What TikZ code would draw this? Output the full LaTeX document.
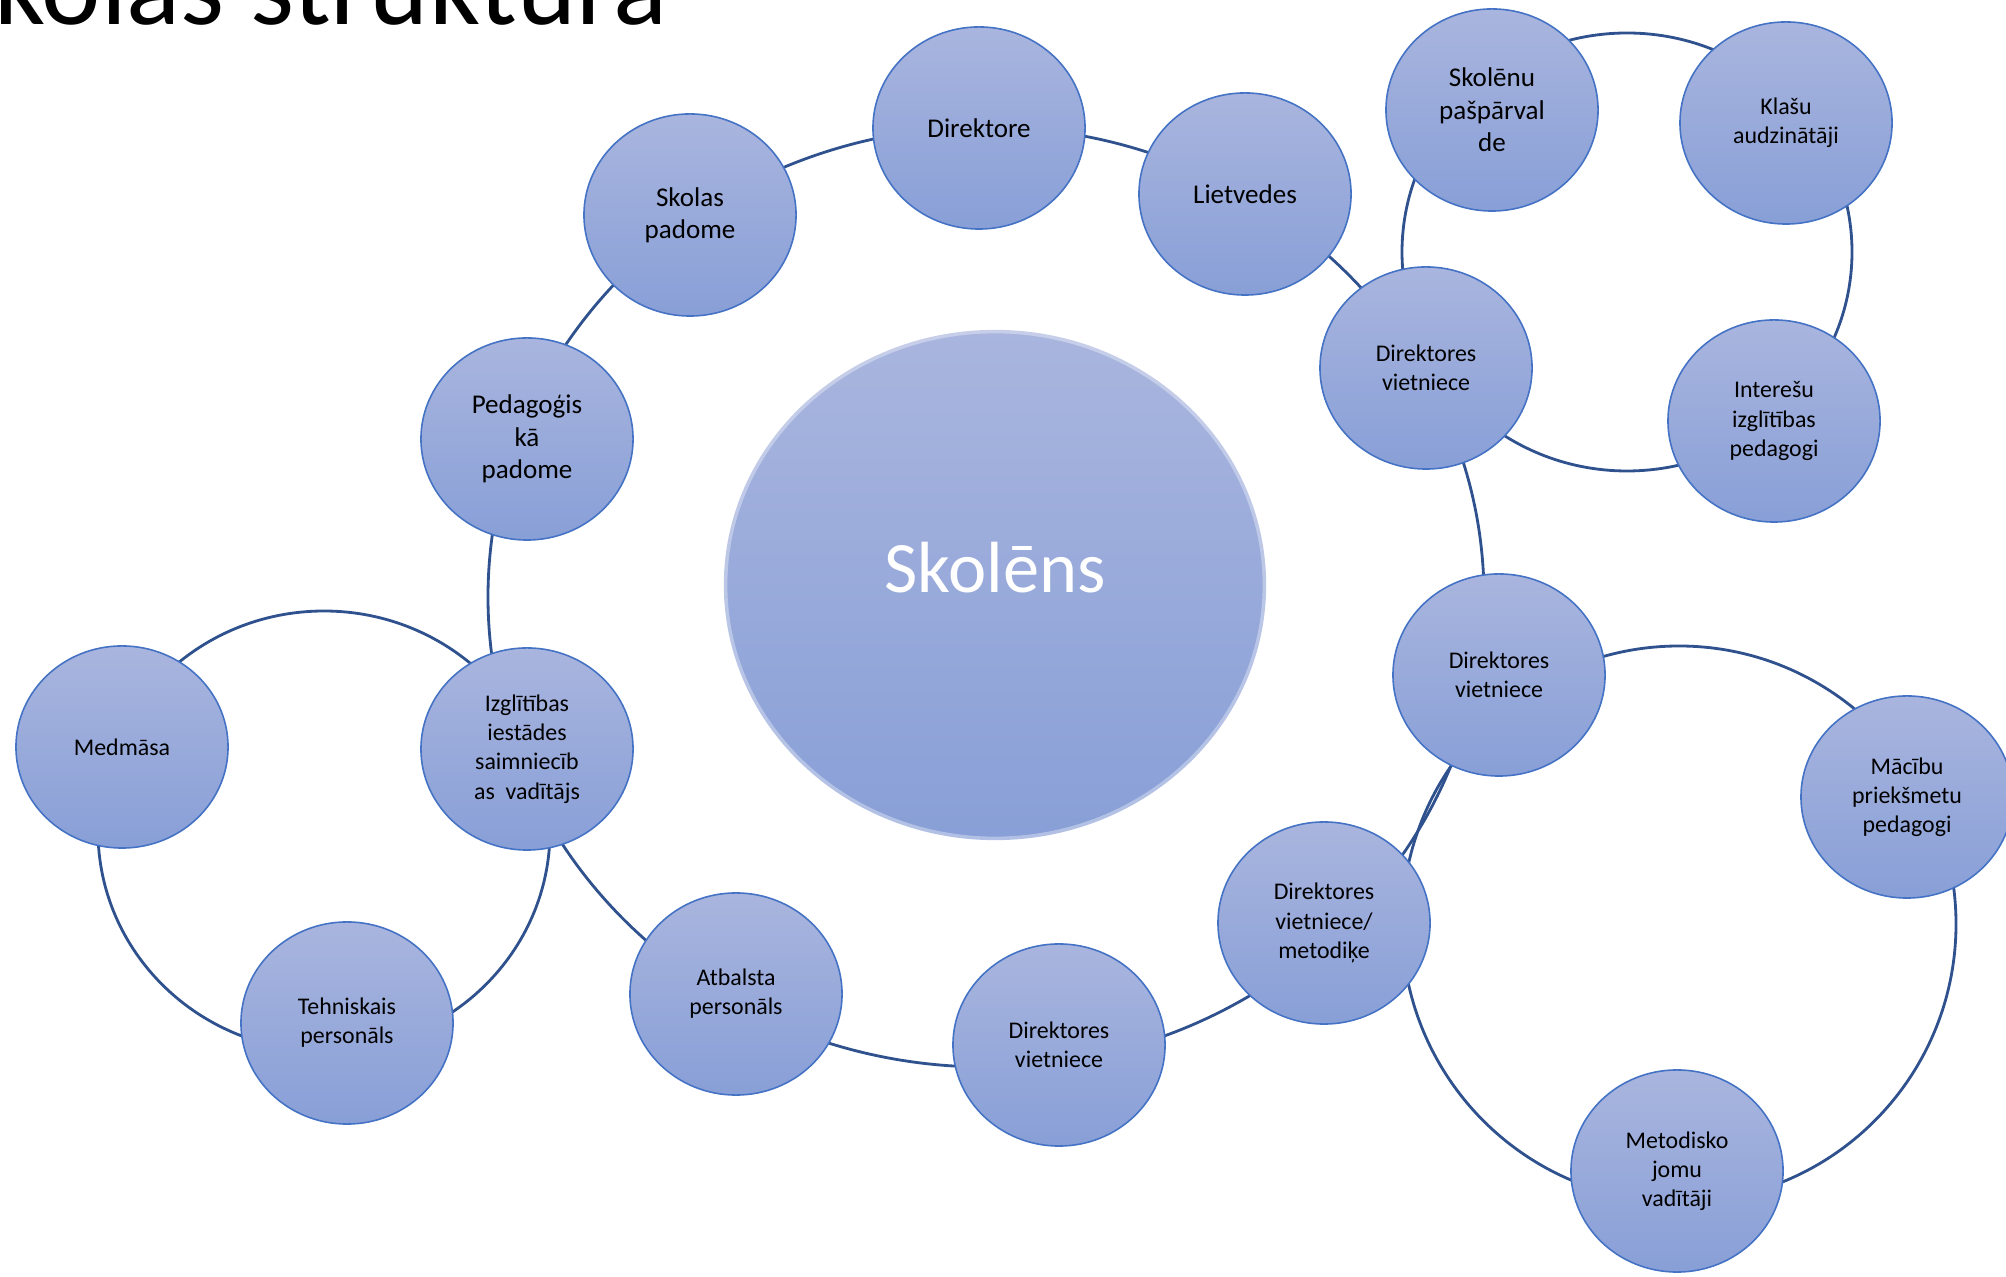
\documentclass[tikz,border=0pt]{standalone}
\usepackage{fontspec}
\setmainfont{Carlito}
\usetikzlibrary{shapes.geometric}

\definecolor{ringblue}{RGB}{47,82,143}
\definecolor{unitedge}{RGB}{68,114,196}
\definecolor{unittop}{RGB}{169,181,222}
\definecolor{unitbottom}{RGB}{136,159,215}

\tikzset{
  ring/.style={draw=ringblue, line width=0.8pt},
  unit/.style={ellipse, draw=unitedge, line width=0.45pt, top color=unittop, bottom color=unitbottom,
    minimum width=2.12cm, minimum height=2.02cm, inner sep=0pt, align=center,
    font=\fontsize{6.8}{8.3}\selectfont},
  bigunit/.style={unit, font=\fontsize{7.7}{9.2}\selectfont},
  pupil/.style={ellipse, top color=unittop, bottom color=unitbottom, draw=white, draw opacity=0.35,
    line width=2pt, minimum width=5.42cm, minimum height=5.10cm, inner sep=0pt, text=white,
    text depth=0.36cm, font=\fontsize{20.6}{24}\selectfont},
  heading/.style={anchor=base west, inner sep=0pt, font=\fontsize{32}{38}\selectfont}
}

\begin{document}
\begin{tikzpicture}[x=0.01cm, y=-0.01cm]
            \useasboundingbox (0,0) rectangle (2006,1277);
            \clip (0,0) rectangle (2006,1277);

            % Title, cut by the frame
            \node [heading] (title) at (-58,25) {Skolas struktūra};%

            % Drawing ring round the pupil
            \coordinate (mainring) at (986,597);%
            \draw [ring] (mainring) ellipse (498 and 470);%

            % Drawing ring top right
            \coordinate (topring) at (1627,252);%
            \draw [ring] (topring) ellipse (225 and 219);%

            % Drawing ring bottom right
            \coordinate (lowring) at (1679,924);%
            \draw [ring] (lowring) ellipse (277 and 278);%

            % Drawing ring bottom left
            \coordinate (leftring) at (324,831);%
            \draw [ring] (leftring) ellipse (226 and 220);%

            % Marking the pupil
            \node [pupil] (skolens) at (995,585) {Skolēns};%

            % Marking nodes on the main ring
            \node [bigunit] (direktore) at (979,128) {Direktore};%
            \node [bigunit] (lietvedes) at (1245,194) {Lietvedes};%
            \node [bigunit] (skolaspadome) at (690,215) {Skolas\\padome};%
            \node [bigunit] (pedpadome) at (527,439) {Pedagoģis\\kā\\padome};%
            \node [unit] (saimn) at (527,749) {Izglītības\\iestādes\\saimniecīb\\as~~vadītājs};%
            \node [unit] (atbalsts) at (736,994) {Atbalsta\\personāls};%
            \node [unit] (vietn3) at (1059,1045) {Direktores\\vietniece};%
            \node [unit] (metodike) at (1324,923) {Direktores\\vietniece/\\metodiķe};%
            \node [unit] (vietn2) at (1499,675) {Direktores\\vietniece};%
            \node [unit] (vietn1) at (1426,368) {Direktores\\vietniece};%

            % Marking nodes top right
            \node [bigunit] (pasparvalde) at (1492,110) {Skolēnu\\pašpārval\\de};%
            \node [unit] (audzinataji) at (1786,123) {Klašu\\audzinātāji};%
            \node [unit] (interesu) at (1774,421) {Interešu\\izglītības\\pedagogi};%

            % Marking nodes bottom right
            \node [unit] (macibu) at (1907,797) {Mācību\\priekšmetu\\pedagogi};%
            \node [unit] (metodisko) at (1677,1171) {Metodisko\\jomu\\vadītāji};%

            % Marking nodes bottom left
            \node [unit] (medmasa) at (122,747) {Medmāsa};%
            \node [unit] (tehniskais) at (347,1023) {Tehniskais\\personāls};%
\end{tikzpicture}
\end{document}
